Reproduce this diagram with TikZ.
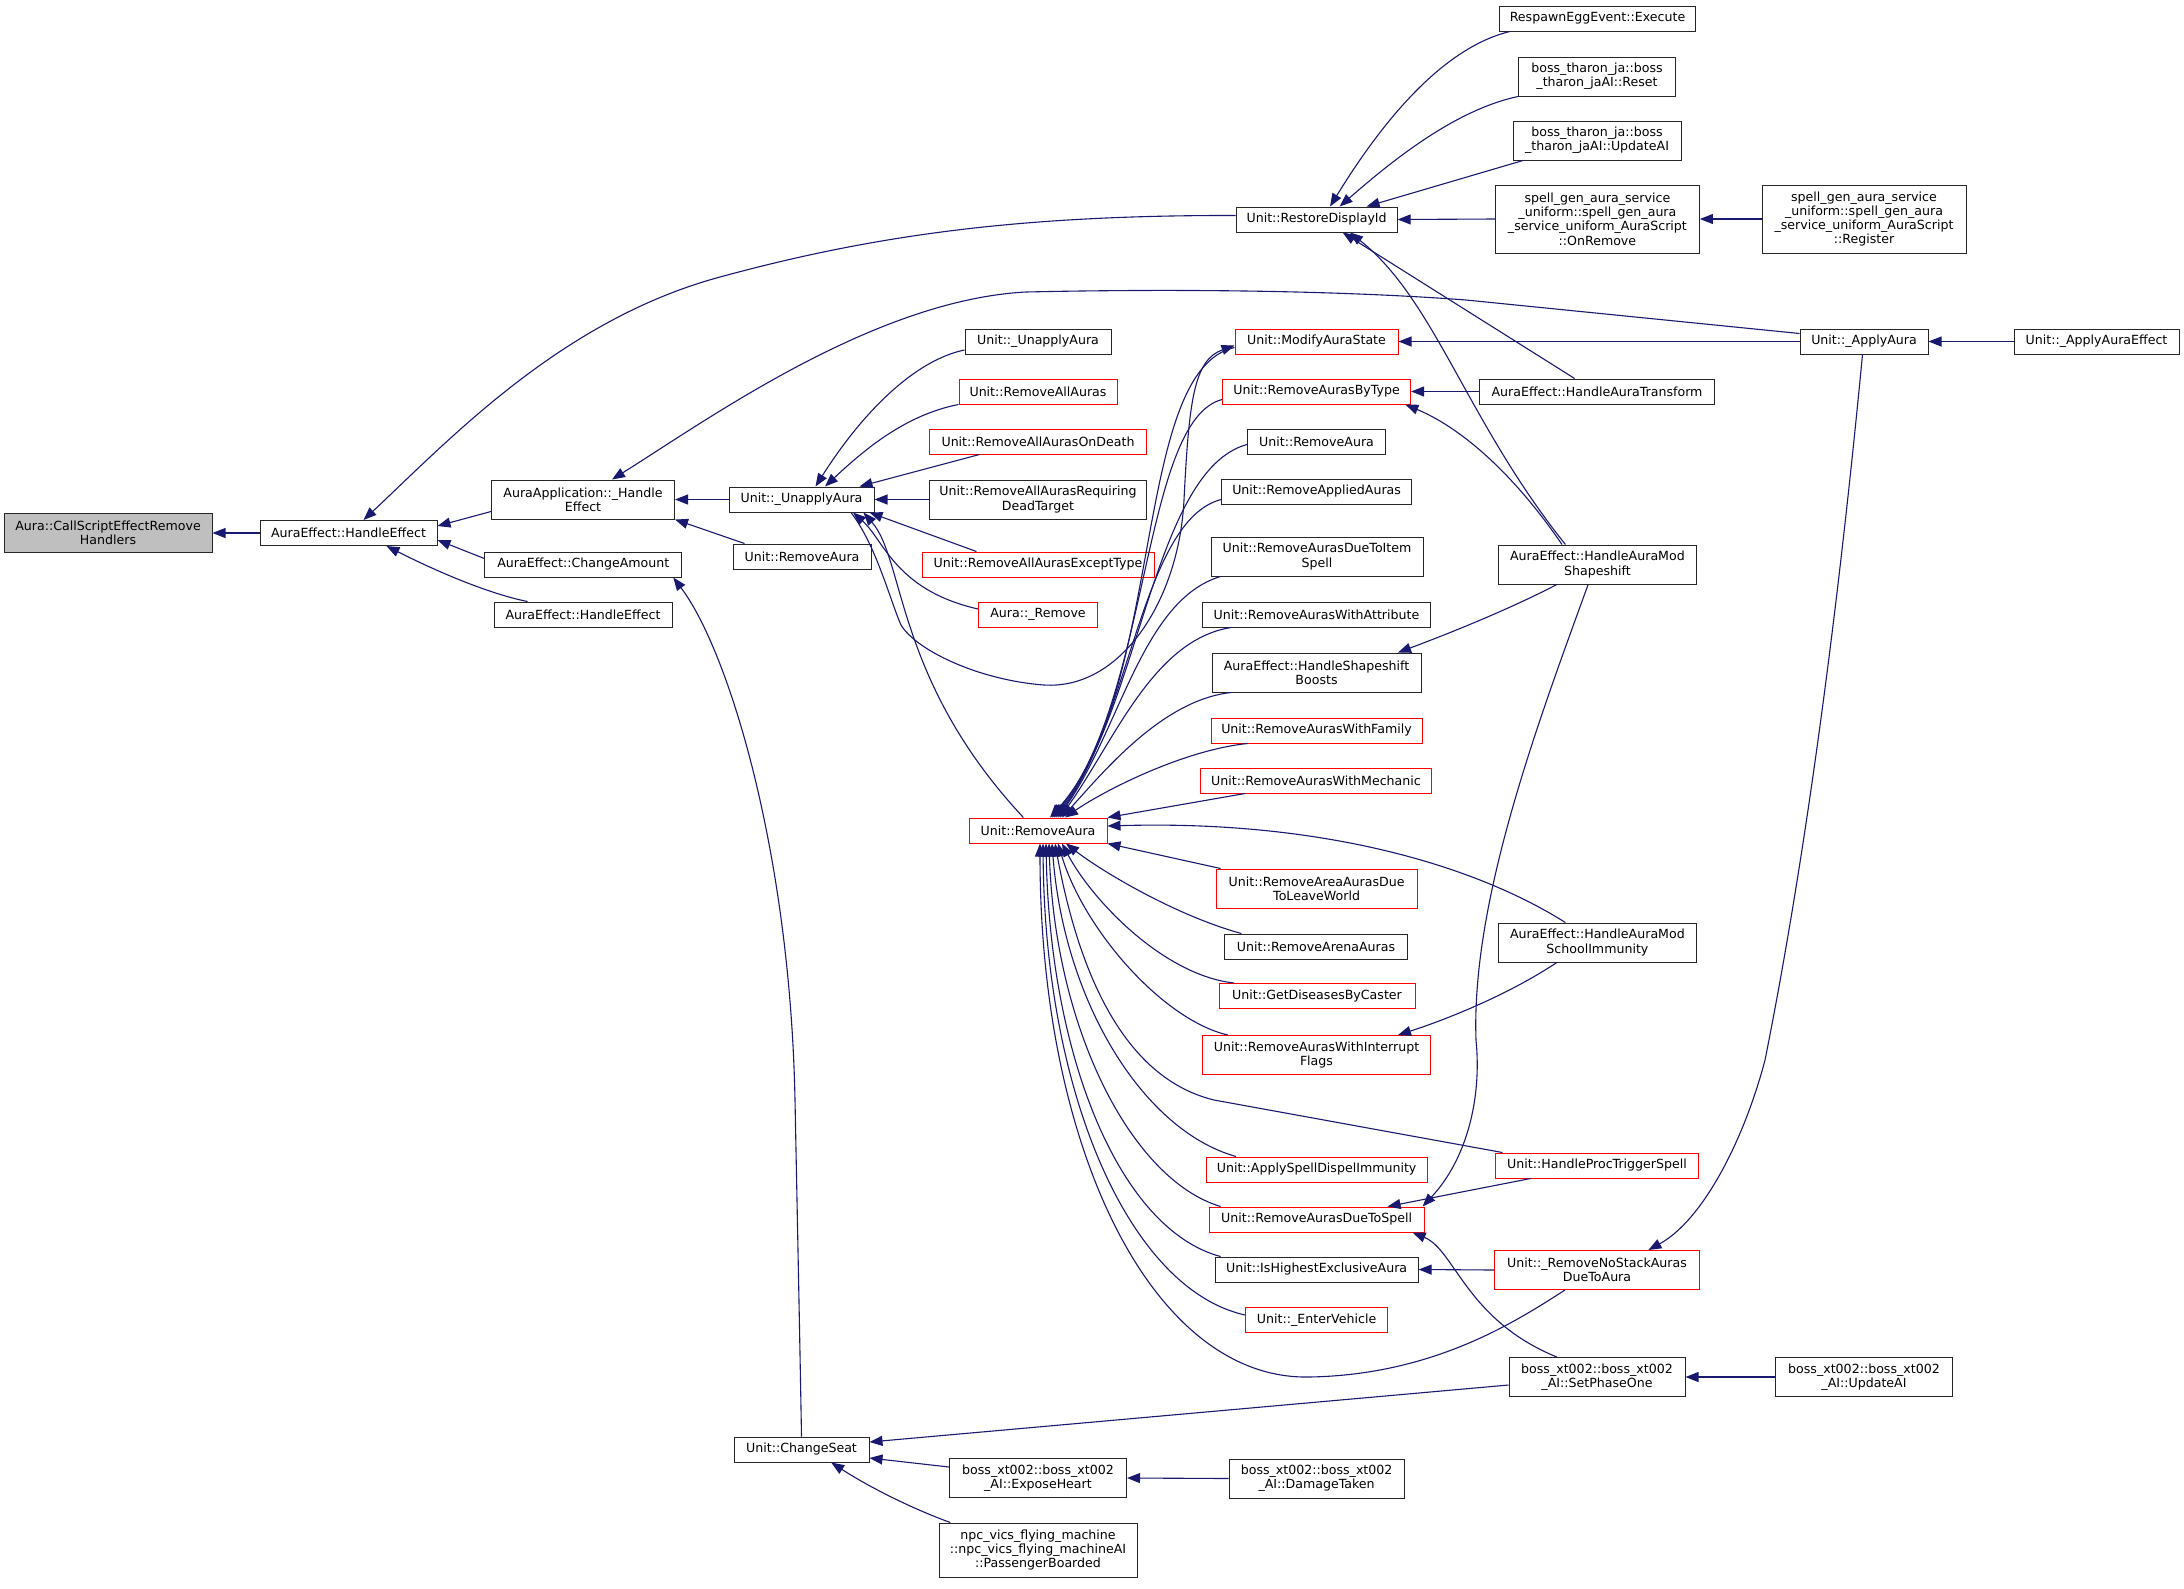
\documentclass[tikz,border=0pt]{standalone}
\usepackage{fontspec}
\setmainfont{DejaVu Sans}
\usetikzlibrary{arrows.meta}
\definecolor{mblue}{HTML}{191970}
\definecolor{rootgray}{HTML}{BFBFBF}
\newcommand{\nfont}{\fontsize{12.6}{14.3}\selectfont}
\newcommand{\mkbox}[7]{\node[#1,minimum width=#5pt,minimum height=#6pt] (#2) at (#3,#4) {#7};}
\begin{document}
\begin{tikzpicture}[x=1pt,y=-1pt,
  box/.style={draw=black!85,line width=1pt,fill=white,inner sep=0pt,align=center,font=\nfont},
  rbox/.style={box,draw=red},
  gbox/.style={box,fill=rootgray},
  calls/.style={draw=mblue,line width=1.1pt,{Triangle[length=13pt,width=10pt]}-}]
\fill[white] (0,0) rectangle (2184,1588);
\useasboundingbox (0,0) rectangle (2184,1588);
% column 0-2
\mkbox{gbox}{root}{108}{533}{208}{39}{Aura::CallScriptEffectRemove\\Handlers}
\mkbox{box}{he1}{348.5}{533}{177}{25}{AuraEffect::HandleEffect}
\mkbox{box}{aapp}{583}{499.5}{183}{39}{AuraApplication::\_Handle\\Effect}
\mkbox{box}{camt}{583.3}{564.5}{197}{25}{AuraEffect::ChangeAmount}
\mkbox{box}{he2}{583}{614.5}{178}{25}{AuraEffect::HandleEffect}
\mkbox{box}{unap}{801.5}{499.5}{145}{25}{Unit::\_UnapplyAura}
\mkbox{box}{ra2}{802}{556.5}{138}{25}{Unit::RemoveAura}
\mkbox{box}{cseat}{801.5}{1449.5}{135}{25}{Unit::ChangeSeat}
% column 3
\mkbox{box}{unap2}{1038}{341.5}{146}{25}{Unit::\_UnapplyAura}
\mkbox{rbox}{raa}{1038}{391.5}{158}{25}{Unit::RemoveAllAuras}
\mkbox{rbox}{raaod}{1038}{441.5}{217}{25}{Unit::RemoveAllAurasOnDeath}
\mkbox{box}{req}{1038}{499.5}{217}{39}{Unit::RemoveAllAurasRequiring\\DeadTarget}
\mkbox{rbox}{rexc}{1038}{564.5}{232}{25}{Unit::RemoveAllAurasExceptType}
\mkbox{rbox}{arem}{1038}{614.5}{119}{25}{Aura::\_Remove}
\mkbox{rbox}{hub}{1038}{830.5}{138}{25}{Unit::RemoveAura}
\mkbox{box}{xheart}{1038}{1478}{177}{39}{boss\_xt002::boss\_xt002\\\_AI::ExposeHeart}
\mkbox{box}{npc}{1038}{1550}{198}{54}{npc\_vics\_flying\_machine\\::npc\_vics\_flying\_machineAI\\::PassengerBoarded}
% column 4
\mkbox{box}{rdi}{1316.6}{219.5}{161}{25}{Unit::RestoreDisplayId}
\mkbox{rbox}{mod}{1316.5}{341.5}{163}{25}{Unit::ModifyAuraState}
\mkbox{rbox}{rbt}{1316.6}{391.5}{188}{25}{Unit::RemoveAurasByType}
\mkbox{box}{ra3}{1316.5}{441.5}{138}{25}{Unit::RemoveAura}
\mkbox{box}{rapp}{1316.6}{491.5}{190}{25}{Unit::RemoveAppliedAuras}
\mkbox{box}{rditem}{1317}{556.5}{212}{39}{Unit::RemoveAurasDueToItem\\Spell}
\mkbox{box}{rattr}{1316.5}{614.5}{228}{25}{Unit::RemoveAurasWithAttribute}
\mkbox{box}{boosts}{1316.5}{672.5}{209}{39}{AuraEffect::HandleShapeshift\\Boosts}
\mkbox{rbox}{rfam}{1316.5}{730.5}{211}{25}{Unit::RemoveAurasWithFamily}
\mkbox{rbox}{rmech}{1316}{780.5}{231}{25}{Unit::RemoveAurasWithMechanic}
\mkbox{rbox}{rarea}{1316.6}{888.5}{201}{39}{Unit::RemoveAreaAurasDue\\ToLeaveWorld}
\mkbox{box}{rarena}{1316}{946.5}{183}{25}{Unit::RemoveArenaAuras}
\mkbox{rbox}{gdis}{1317}{996}{196}{25}{Unit::GetDiseasesByCaster}
\mkbox{rbox}{rint}{1316.5}{1055}{228}{39}{Unit::RemoveAurasWithInterrupt\\Flags}
\mkbox{rbox}{asdi}{1316.6}{1169.5}{221}{25}{Unit::ApplySpellDispelImmunity}
\mkbox{rbox}{rdspell}{1316.6}{1219.5}{215}{25}{Unit::RemoveAurasDueToSpell}
\mkbox{box}{ihea}{1316.6}{1269.5}{203}{25}{Unit::IsHighestExclusiveAura}
\mkbox{rbox}{ev}{1316.6}{1320}{142}{25}{Unit::\_EnterVehicle}
\mkbox{box}{dmg}{1316.6}{1478.5}{175}{39}{boss\_xt002::boss\_xt002\\\_AI::DamageTaken}
% column 5
\mkbox{box}{egg}{1597.5}{18.5}{196}{25}{RespawnEggEvent::Execute}
\mkbox{box}{thr}{1597}{76.5}{157}{39}{boss\_tharon\_ja::boss\\\_tharon\_jaAI::Reset}
\mkbox{box}{thu}{1597}{140.5}{168}{39}{boss\_tharon\_ja::boss\\\_tharon\_jaAI::UpdateAI}
\mkbox{box}{onrem}{1597.4}{219}{204}{68}{spell\_gen\_aura\_service\\\_uniform::spell\_gen\_aura\\\_service\_uniform\_AuraScript\\::OnRemove}
\mkbox{box}{hat}{1597}{391.5}{235}{25}{AuraEffect::HandleAuraTransform}
\mkbox{box}{shp}{1597.4}{564.5}{198}{39}{AuraEffect::HandleAuraMod\\Shapeshift}
\mkbox{box}{sch}{1597.4}{942.5}{198}{39}{AuraEffect::HandleAuraMod\\SchoolImmunity}
\mkbox{rbox}{proc}{1597}{1165.5}{203}{25}{Unit::HandleProcTriggerSpell}
\mkbox{rbox}{nostack}{1597}{1270}{205}{39}{Unit::\_RemoveNoStackAuras\\DueToAura}
\mkbox{box}{sp1}{1597}{1377}{176}{39}{boss\_xt002::boss\_xt002\\\_AI::SetPhaseOne}
% column 6-7
\mkbox{box}{reg}{1864}{219}{204}{68}{spell\_gen\_aura\_service\\\_uniform::spell\_gen\_aura\\\_service\_uniform\_AuraScript\\::Register}
\mkbox{box}{aap}{1864}{341.5}{128}{25}{Unit::\_ApplyAura}
\mkbox{box}{xupd}{1864}{1377}{176.5}{39}{boss\_xt002::boss\_xt002\\\_AI::UpdateAI}
\mkbox{box}{aape}{2096.5}{341.5}{165}{25}{Unit::\_ApplyAuraEffect}
% edges
\draw[calls] (root.east) -- (he1.west);
\draw[calls] ([yshift=7pt]he1.east) -- ([yshift=-12pt]aapp.west);
\draw[calls] ([yshift=-7pt]he1.east) -- ([yshift=6pt]camt.west);
\draw[calls] ([xshift=38pt]he1.south) .. controls (418,562) and (480,592) .. ([xshift=-55.5pt]he2.north);
\draw[calls] ([xshift=15pt]he1.north) .. controls (449,440) and (561,320) .. (720,277) .. controls (874,235) and (1020,215) .. ([yshift=4pt]rdi.west);
\draw[calls] ([xshift=29pt]aapp.north) .. controls (707,420) and (874,300) .. (1026,292) .. controls (1205,288) and (1361,292) .. (1466,300) -- ([yshift=8pt]aap.west);
\draw[calls] (aapp.east) -- (unap.west);
\draw[calls] (aapp.south east) -- ([xshift=-57.5pt]ra2.north);
\draw[calls] ([xshift=14pt]unap.north) .. controls (864,410) and (916,360) .. ([yshift=-8.5pt]unap2.west);
\draw[calls] ([xshift=23.5pt]unap.north) .. controls (864,450) and (905,415) .. (raa.south west);
\draw[calls] ([xshift=58pt]unap.north) -- ([xshift=-58.5pt]raaod.south);
\draw[calls] (unap.east) -- (req.west);
\draw[calls] ([xshift=68pt]unap.south) -- ([xshift=-61.6pt]rexc.north);
\draw[calls] ([xshift=51.5pt]unap.south) .. controls (884,540) and (895,590) .. ([yshift=5.5pt]arem.west);
\draw[calls] ([xshift=62pt]unap.south) .. controls (905,560) and (895,680) .. ([xshift=-14.6pt]hub.north);
\draw[calls] ([yshift=-4pt]mod.west) .. controls (1194,360) and (1189,400) .. (1184,500) .. controls (1179,600) and (1121,690) .. (1044,685) .. controls (978,680) and (916,650) .. (901,625) .. controls (890,600) and (876,545) .. ([xshift=49.5pt]unap.south);
% hub, top fan
\draw[calls] ([xshift=12pt]hub.north) .. controls (1165,690) and (1132,370) .. ([yshift=-6pt]mod.west);
\draw[calls] ([xshift=14pt]hub.north) .. controls (1150,700) and (1142,420) .. ([yshift=-8pt]rbt.west);
\draw[calls] ([xshift=16pt]hub.north) .. controls (1140,710) and (1153,470) .. ([yshift=-3pt]ra3.west);
\draw[calls] ([xshift=18pt]hub.north) .. controls (1130,720) and (1142,520) .. ([yshift=-8pt]rapp.west);
\draw[calls] ([xshift=20pt]hub.north) .. controls (1120,730) and (1142,600) .. ([xshift=-96.5pt]rditem.south);
\draw[calls] ([xshift=22pt]hub.north) .. controls (1115,740) and (1153,640) .. ([xshift=-85.5pt]rattr.south);
\draw[calls] ([xshift=24pt]hub.north) .. controls (1105,770) and (1163,700) .. ([xshift=-85.5pt]boosts.south);
\draw[calls] ([xshift=27pt]hub.north) .. controls (1105,790) and (1184,750) .. ([xshift=-69pt]rfam.south);
\draw[calls] (hub.north east) -- ([xshift=-71pt]rmech.south);
\draw[calls] ([yshift=4.5pt]hub.east) .. controls (1309,820) and (1466,860) .. ([xshift=-32pt]sch.north);
% hub, bottom fan
\draw[calls] (hub.south east) -- ([xshift=-96pt]rarea.north);
\draw[calls] ([xshift=28pt]hub.south) .. controls (1100,870) and (1174,915) .. ([xshift=-74.6pt]rarena.north);
\draw[calls] ([xshift=24pt]hub.south) .. controls (1092,900) and (1163,975) .. ([xshift=-83pt]gdis.north);
\draw[calls] ([xshift=20pt]hub.south) .. controls (1084,930) and (1163,1020) .. ([xshift=-88.7pt]rint.north);
\draw[calls] ([xshift=17pt]hub.south) .. controls (1082,990) and (1132,1080) .. (1214,1100) -- ([xshift=-94.5pt]proc.north);
\draw[calls] ([xshift=14pt]hub.south) .. controls (1064,1000) and (1142,1130) .. ([xshift=-80.6pt]asdi.north);
\draw[calls] ([xshift=11pt]hub.south) .. controls (1055,1030) and (1132,1180) .. ([xshift=-96pt]rdspell.north);
\draw[calls] ([xshift=8pt]hub.south) .. controls (1050,1060) and (1121,1230) .. ([xshift=-96pt]ihea.north);
\draw[calls] ([xshift=5pt]hub.south) .. controls (1045,1100) and (1132,1290) .. ([yshift=5pt]ev.west);
\draw[calls] ([xshift=2pt]hub.south) .. controls (1040,1150) and (1153,1380) .. (1309,1377) .. controls (1435,1375) and (1518,1320) .. ([xshift=-32pt]nostack.south);
% RestoreDisplayId
\draw[calls] ([xshift=13.4pt]rdi.north) .. controls (1371,140) and (1434,50) .. ([xshift=-87.7pt]egg.south);
\draw[calls] ([xshift=23pt]rdi.north) .. controls (1393,160) and (1455,110) .. (thr.south west);
\draw[calls] ([xshift=50pt]rdi.north) -- ([xshift=-74pt]thu.south);
\draw[calls] (rdi.east) -- (onrem.west);
\draw[calls] ([xshift=26pt]rdi.south) -- ([xshift=-22.4pt]hat.north);
\draw[calls] ([xshift=33.4pt]rdi.south) .. controls (1435,300) and (1466,420) .. ([xshift=-32pt]shp.north);
\draw[calls] (onrem.east) -- (reg.west);
% column 4-5 links
\draw[calls] (rbt.east) -- (hat.west);
\draw[calls] ([xshift=88.8pt]rbt.south) .. controls (1466,430) and (1518,480) .. ([xshift=-35.4pt]shp.north);
\draw[calls] ([xshift=81.5pt]boosts.north) .. controls (1445,635) and (1508,610) .. ([xshift=-40.6pt]shp.south);
\draw[calls] ([xshift=106pt]rdspell.north) .. controls (1466,1160) and (1482,1100) .. (1476,1040) .. controls (1471,900) and (1539,720) .. ([xshift=-9.3pt]shp.south);
\draw[calls] ([xshift=81.5pt]rint.north) .. controls (1445,1020) and (1508,995) .. ([xshift=-40.6pt]sch.south);
\draw[calls] ([xshift=71pt]rdspell.north) -- ([xshift=-66.4pt]proc.south);
\draw[calls] ([xshift=96pt]rdspell.south) .. controls (1455,1250) and (1466,1320) .. ([xshift=-40.2pt]sp1.north);
\draw[calls] (ihea.east) -- (nostack.west);
% ApplyAura
\draw[calls] (aap.east) -- (aape.west);
\draw[calls] (mod.east) -- (aap.west);
\draw[calls] ([xshift=51.4pt]nostack.north) .. controls (1703,1220) and (1744,1140) .. (1765,1060) .. controls (1807,850) and (1839,600) .. ([xshift=-1.5pt]aap.south);
% xt002 / ChangeSeat
\draw[calls] (sp1.east) -- (xupd.west);
\draw[calls] ([yshift=7.5pt]cseat.east) -- ([yshift=-8pt]sp1.west);
\draw[calls] ([yshift=-8.5pt]cseat.east) -- ([yshift=11pt]xheart.west);
\draw[calls] (xheart.east) -- (dmg.west);
\draw[calls] ([xshift=29.7pt]cseat.south) .. controls (874,1490) and (916,1510) .. ([xshift=-87.7pt]npc.north);
\draw[calls] ([xshift=90pt]camt.south) .. controls (728,650) and (790,850) .. (795,1100) .. controls (798,1250) and (800,1350) .. (cseat.north);
\end{tikzpicture}
\end{document}
